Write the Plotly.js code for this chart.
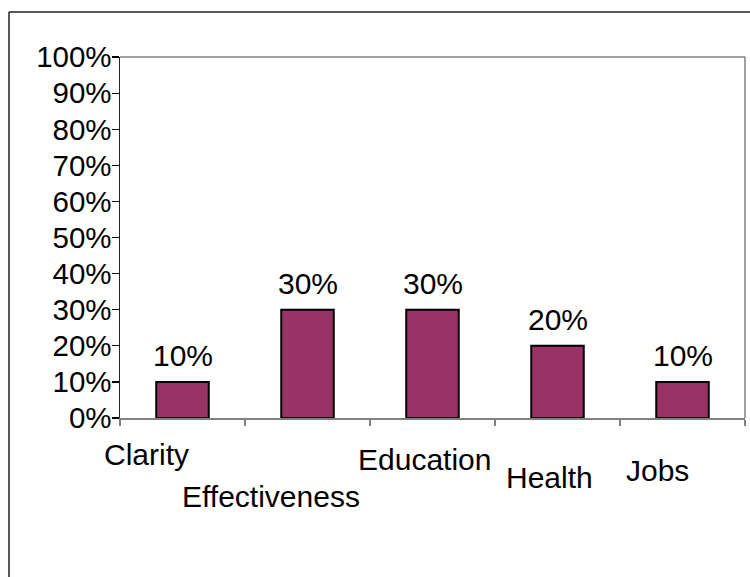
<!DOCTYPE html>
<html>
<head>
<meta charset="utf-8">
<script src="https://cdn.plot.ly/plotly-3.0.1.min.js"></script>
<style>html,body{margin:0;padding:0;background:#fff}#chart{width:750px;height:577px}</style>
</head>
<body>
<div id="chart"></div>
<script>
const categories = ["Clarity", "Effectiveness", "Education", "Health", "Jobs"];
const shares = [0.10, 0.30, 0.30, 0.20, 0.10];
const yTickValues = [0, 0.1, 0.2, 0.3, 0.4, 0.5, 0.6, 0.7, 0.8, 0.9, 1.0];

// label placement offsets (style only)
const labelXShift = [-36, -36.5, -8, -8, -25];
const labelYPx = [455, 497, 459, 477, 470];

const W = 750, H = 577;
const M = {l: 120, r: 5, t: 57, b: 159};
const plotH = H - M.t - M.b, plotW = W - M.l - M.r;
const font = "Arial, 'Liberation Sans', sans-serif";

const annotations = [];
categories.forEach((c, i) => {
  annotations.push({
    x: c, xref: 'x', xshift: labelXShift[i],
    y: (H - M.b - labelYPx[i]) / plotH, yref: 'paper',
    yanchor: 'middle', xanchor: 'center',
    text: c, showarrow: false,
    font: {family: font, size: 30, color: '#000'}
  });
  annotations.push({
    x: c, xref: 'x', y: shares[i], yref: 'y',
    yanchor: 'bottom', xanchor: 'center', yshift: 8,
    text: Math.round(shares[i] * 100) + '%', showarrow: false,
    font: {family: font, size: 30, color: '#000'}
  });
});

const fx = (px) => (px - M.l) / plotW;
const fy = (py) => (H - M.b - py) / plotH;

const data = [{
  type: 'bar',
  x: categories,
  y: shares,
  marker: {color: '#993366', line: {color: '#000', width: 2}},
  hoverinfo: 'none'
}];

const layout = {
  width: W, height: H,
  margin: M,
  paper_bgcolor: '#fff', plot_bgcolor: '#fff',
  showlegend: false,
  bargap: 0.58,
  font: {family: font, size: 30, color: '#000'},
  xaxis: {
    type: 'category',
    range: [-0.5, categories.length - 0.5],
    autorange: false,
    showticklabels: false,
    tickson: 'boundaries',
    ticks: 'outside', ticklen: 6, tickcolor: '#808080', tickwidth: 1.5,
    showline: true, linecolor: '#808080', linewidth: 1.5,
    showgrid: false, zeroline: false, fixedrange: true
  },
  yaxis: {
    range: [0, 1],
    tickvals: yTickValues,
    ticktext: yTickValues.map(v => Math.round(v * 100) + '%'),
    ticks: 'outside', ticklen: 7, tickcolor: '#000', tickwidth: 1.2,
    ticklabelstandoff: -6,
    tickfont: {family: font, size: 29.5, color: '#000'},
    showline: true, linecolor: '#222', linewidth: 1.5,
    showgrid: false, zeroline: false, fixedrange: true
  },
  annotations: annotations,
  shapes: [
    {type: 'line', xref: 'paper', yref: 'paper', x0: 1, x1: 1, y0: 0, y1: 1,
     line: {color: '#808080', width: 1.5}},
    {type: 'line', xref: 'paper', yref: 'paper', x0: 0, x1: 1, y0: 1, y1: 1,
     line: {color: '#808080', width: 1.5}},
    {type: 'line', xref: 'paper', yref: 'paper', x0: fx(9), x1: fx(9), y0: fy(12), y1: fy(600),
     line: {color: '#222', width: 1.5}},
    {type: 'line', xref: 'paper', yref: 'paper', x0: fx(9), x1: fx(760), y0: fy(12), y1: fy(12),
     line: {color: '#222', width: 1.5}}
  ]
};

Plotly.newPlot('chart', data, layout, {displayModeBar: false, staticPlot: true});
</script>
</body>
</html>
